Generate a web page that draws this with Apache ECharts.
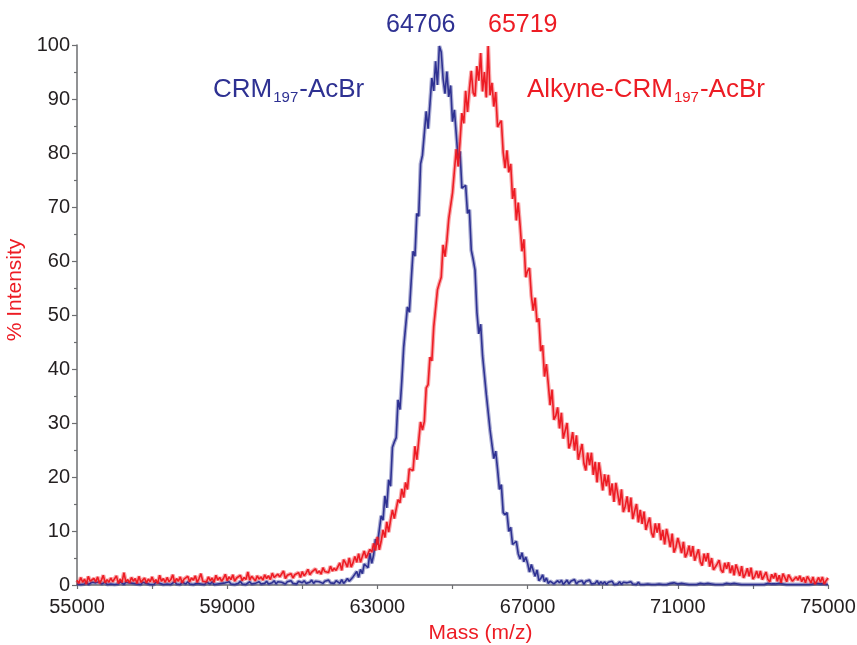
<!DOCTYPE html>
<html>
<head>
<meta charset="utf-8">
<script src="https://cdn.jsdelivr.net/npm/echarts@6/dist/echarts.min.js"></script>
<style>
html,body{margin:0;padding:0;background:#fff;}
#chart{width:857px;height:645px;}
</style>
</head>
<body>
<div id="chart"></div>
<script>
// Mass grid (Da): sampled every 50 Da from 55000 to 75000
const massStart = 55000;
const massStep = 50;

// Intensity (%) of CRM197-AcBr (blue trace), one value per 50 Da
const blueIntensity = [
  0.2,0.5,0.1,0.4,0.2,0.6,0.1,0.3,0.5,0.2,0.4,0.1,0.6,0.2,0.3,0.5,0.1,0.4,0.2,0.5,
  0.1,0.4,0.2,0.6,0.3,0.1,0.5,0.2,0.4,0.1,0.3,0.6,0.2,0.4,0.1,0.5,0.2,0.3,0.6,0.1,
  0.4,0.1,0.5,0.2,0.3,0.6,0.1,0.4,0.2,0.5,0.1,0.3,0.6,0.2,0.4,0.1,0.5,0.3,0.2,0.6,
  0.2,0.5,0.1,0.4,0.3,0.6,0.2,0.4,0.1,0.5,0.3,0.2,0.6,0.1,0.4,0.2,0.5,0.3,0.1,0.4,
  0.3,0.6,0.2,0.5,0.1,0.4,0.3,0.7,0.2,0.5,0.1,0.4,0.6,0.2,0.5,0.3,0.1,0.6,0.2,0.4,
  0.3,0.7,0.2,0.5,0.4,0.8,0.2,0.6,0.3,0.5,0.7,0.2,0.6,0.4,0.8,0.3,0.5,0.2,0.7,0.4,
  0.4,0.8,0.3,0.6,0.5,0.9,0.3,0.7,0.4,0.6,0.8,0.3,0.7,0.5,0.9,0.4,0.6,0.3,0.8,0.5,
  0.3,1.0,0.3,0.7,1.2,0.7,0.6,1.5,1.3,2.5,1.4,2.9,2.1,3.9,3.8,3.2,5.9,4.0,5.6,8.5,
  7.5,7.5,12.8,12.0,16.5,14.3,19.5,18.3,25.5,26.5,27.3,34.3,32.5,37.8,44.0,44.3,51.5,50.5,56.3,61.8,
  60.9,68.8,68.3,78.0,79.6,79.9,87.7,84.5,89.1,93.9,91.5,97.0,92.6,99.8,98.7,93.7,91.0,95.1,90.4,92.5,
  85.8,88.0,83.5,78.8,80.3,73.5,73.3,74.0,68.8,69.5,62.0,60.3,58.3,50.5,46.5,48.3,42.5,42.5,35.3,35.0,
  28.7,28.6,23.4,24.8,21.4,17.7,18.6,13.4,13.0,13.4,9.9,10.7,7.5,7.8,8.1,5.8,4.8,6.0,4.3,5.2,
  4.0,2.4,3.8,2.7,1.6,2.8,0.8,1.2,1.9,0.6,1.3,0.3,0.7,1.0,0.2,0.1,0.8,0.4,0.9,0.1,
  0.3,0.9,0.2,0.7,0.4,1.0,0.2,0.6,0.3,0.8,0.1,0.7,0.4,0.9,0.2,0.5,0.3,0.8,0.1,0.6,
  0.2,0.6,0.1,0.5,0.3,0.7,0.1,0.4,0.2,0.6,0.1,0.5,0.3,0.4,0.1,0.6,0.2,0.4,0.1,0.5,
  0.1,0.3,0.1,0.4,0.2,0.3,0.1,0.4,0.1,0.3,0.2,0.4,0.1,0.3,0.1,0.2,0.3,0.1,0.4,0.1,
  0.2,0.1,0.3,0.1,0.2,0.4,0.1,0.2,0.1,0.3,0.1,0.2,0.3,0.1,0.2,0.1,0.3,0.1,0.2,0.1,
  0.1,0.3,0.1,0.2,0.1,0.2,0.3,0.1,0.2,0.1,0.3,0.1,0.2,0.1,0.1,0.3,0.1,0.2,0.1,0.2,
  0.1,0.2,0.1,0.3,0.1,0.2,0.1,0.1,0.3,0.1,0.2,0.1,0.2,0.1,0.3,0.1,0.2,0.1,0.1,0.2,
  0.1,0.3,0.1,0.2,0.1,0.2,0.1,0.3,0.1,0.2,0.1,0.1,0.2,0.1,0.3,0.1,0.2,0.1,0.2,0.1,0.1
];

// Intensity (%) of Alkyne-CRM197-AcBr (red trace), one value per 50 Da
const redIntensity = [
  0.9,0.3,1.4,0.5,1.1,0.2,1.6,0.7,0.4,1.2,0.6,1.5,0.3,0.9,1.8,0.4,1.0,0.5,1.3,0.6,
  0.8,1.7,0.3,1.1,0.5,2.3,0.6,1.0,0.4,1.4,0.7,1.2,0.3,1.6,0.5,0.9,1.3,0.4,1.1,0.6,
  1.5,0.5,1.0,0.3,1.8,0.7,1.2,0.5,1.4,0.6,1.0,1.9,0.5,1.2,0.7,1.5,0.4,1.1,0.8,1.6,
  0.6,1.3,0.9,1.7,0.5,1.2,2.1,0.7,1.0,0.6,1.5,0.8,1.3,0.5,1.8,0.9,1.4,0.7,1.2,2.0,
  0.8,1.5,1.0,1.9,0.7,1.3,1.1,1.8,0.8,1.4,1.0,2.4,0.9,1.6,1.2,0.8,1.7,1.1,1.5,0.9,
  1.9,1.2,1.7,1.0,2.2,1.4,1.1,2.0,1.5,1.3,2.6,1.2,1.8,1.5,2.1,1.3,1.9,1.6,2.3,1.4,
  2.5,1.7,2.2,2.9,1.9,2.4,2.1,3.0,2.2,2.6,2.0,3.2,2.5,2.8,2.3,3.5,2.6,3.1,2.7,3.4,
  4.1,2.7,4.7,4.1,3.3,5.0,3.3,4.1,5.3,4.2,5.8,4.2,5.3,6.3,5.0,4.7,6.6,6.1,7.7,6.4,
  8.9,6.5,8.1,10.2,8.8,11.7,9.8,12.0,13.9,12.3,12.5,15.8,15.2,17.8,16.2,19.0,17.7,21.5,21.3,21.2,
  25.7,23.2,26.7,30.2,28.7,30.3,36.5,37.1,42.2,41.5,47.8,47.5,54.7,55.9,57.0,63.0,60.8,63.8,67.8,67.9,
  72.6,72.9,80.7,77.5,82.1,87.4,85.5,91.5,87.6,91.8,95.2,91.2,90.5,96.1,93.4,98.5,91.4,95.0,90.3,99.8,
  90.7,93.0,88.6,91.3,84.8,85.5,86.0,80.1,77.2,80.5,76.4,78.0,71.5,73.5,67.5,70.8,66.6,61.8,64.0,57.0,
  58.2,58.7,53.6,50.8,53.2,48.7,49.4,43.3,44.4,38.6,40.9,37.3,33.3,36.2,30.6,31.3,32.9,29.0,31.9,27.1,
  27.0,30.0,25.3,26.3,28.3,24.9,27.7,23.2,24.7,26.1,22.5,21.2,24.5,22.2,24.5,20.4,22.8,19.0,22.7,20.4,
  17.5,20.5,18.3,20.4,16.6,18.8,15.4,18.9,16.9,14.8,17.7,13.5,14.6,16.4,13.5,16.2,12.2,13.7,15.0,11.6,
  13.9,11.3,13.6,10.2,11.5,12.5,9.7,8.8,11.4,9.7,11.4,8.3,10.2,7.5,10.4,8.8,7.0,9.5,6.0,7.0,
  8.7,7.4,5.9,8.0,5.1,5.9,7.3,5.3,7.2,4.5,5.6,6.6,4.3,3.6,5.8,4.4,5.9,3.4,5.0,2.8,
  3.0,3.9,4.6,2.8,2.3,4.1,3.0,4.2,2.2,3.6,1.8,3.8,2.8,1.7,3.5,1.3,2.0,3.1,1.6,3.2,
  1.1,1.6,2.6,1.3,2.6,1.0,1.7,2.4,1.0,0.6,2.0,1.2,2.2,0.7,1.8,0.4,2.1,1.4,0.6,1.9,
  1.7,0.7,0.4,1.5,0.9,1.7,0.6,1.4,0.4,1.6,1.0,0.4,1.5,0.2,0.7,1.4,0.5,1.5,0.2,0.8,1.3
];

// Peak annotations and trace names
const peakLabels = ['64706', '65719'];
const seriesNames = ['CRM197-AcBr', 'Alkyne-CRM197-AcBr'];

const BLUE = '#2e3192';
const RED = '#ed1c24';
const FONT = '"Liberation Sans", Arial, sans-serif';

const toPairs = arr => arr.map((v, i) => [massStart + i * massStep, v]);

const chart = echarts.init(document.getElementById('chart'), null, {renderer: 'canvas'});

const subRich = color => ({
  a: {fontSize: 26, fill: color, fontFamily: FONT, lineHeight: 30},
  s: {fontSize: 15, fill: color, fontFamily: FONT, lineHeight: 30, padding: [15, 1, 0, 1]}
});

// a trace = soft wide underlay (dense-noise band look) + crisp line on top
const trace = (name, values, color, z) => [
  {
    name: name,
    type: 'line',
    data: toPairs(values),
    showSymbol: false,
    symbol: 'none',
    silent: true,
    lineStyle: {color: color, width: 4, opacity: 0.4},
    itemStyle: {color: color},
    z: z
  },
  {
    name: name,
    type: 'line',
    data: toPairs(values),
    showSymbol: false,
    symbol: 'none',
    lineStyle: {color: color, width: 1.6},
    itemStyle: {color: color},
    z: z + 1
  }
];

chart.setOption({
  animation: false,
  backgroundColor: '#ffffff',
  textStyle: {fontFamily: FONT},
  grid: {left: 77, right: 29, top: 45, bottom: 60, containLabel: false, outerBoundsMode: 'none'},
  xAxis: {
    type: 'value',
    min: 55000,
    max: 75000,
    interval: 4000,
    name: 'Mass (m/z)',
    nameLocation: 'middle',
    nameGap: 38,
    nameTextStyle: {color: RED, fontSize: 21, fontFamily: FONT, padding: [0, 0, 0, 56]},
    axisLine: {show: true, onZero: false, lineStyle: {color: '#6d6e71', width: 1.5}},
    axisTick: {show: true, inside: false, length: 4, lineStyle: {color: '#6d6e71', width: 1.2}},
    minorTick: {show: true, splitNumber: 2, length: 4, lineStyle: {color: '#6d6e71', width: 1.2}},
    splitLine: {show: false},
    axisLabel: {color: '#231f20', fontSize: 20, fontFamily: FONT, margin: 12,
      showMinLabel: true, showMaxLabel: true, formatter: v => String(v)}
  },
  yAxis: {
    type: 'value',
    min: 0,
    max: 100,
    interval: 10,
    name: '% Intensity',
    nameLocation: 'middle',
    nameGap: 46,
    nameRotate: 90,
    nameTextStyle: {color: RED, fontSize: 21, fontFamily: FONT, padding: [0, 0, 0, 50]},
    axisLine: {show: true, lineStyle: {color: '#6d6e71', width: 1.5}},
    axisTick: {show: true, inside: false, length: 5, lineStyle: {color: '#6d6e71', width: 1.2}},
    minorTick: {show: true, splitNumber: 2, length: 3, lineStyle: {color: '#6d6e71', width: 1.2}},
    splitLine: {show: false},
    axisLabel: {color: '#231f20', fontSize: 20, fontFamily: FONT, margin: 7}
  },
  series: [
    ...trace(seriesNames[0], blueIntensity, BLUE, 2),
    ...trace(seriesNames[1], redIntensity, RED, 4)
  ],
  graphic: [
    {type: 'text', left: 386, top: 13,
      style: {text: peakLabels[0], fill: BLUE, font: '25px ' + FONT}},
    {type: 'text', left: 488, top: 13,
      style: {text: peakLabels[1], fill: RED, font: '25px ' + FONT}},
    {type: 'text', left: 213, top: 75,
      style: {text: '{a|CRM}{s|197}{a|-AcBr}', rich: subRich(BLUE)}},
    {type: 'text', left: 527, top: 75,
      style: {text: '{a|Alkyne-CRM}{s|197}{a|-AcBr}', rich: subRich(RED)}}
  ]
});
</script>
</body>
</html>
